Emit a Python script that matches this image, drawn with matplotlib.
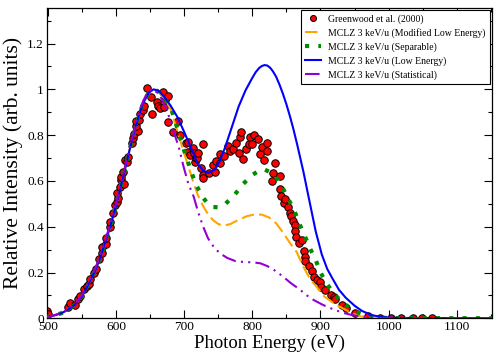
import matplotlib
matplotlib.use("Agg")
import matplotlib.pyplot as plt
from matplotlib.ticker import MultipleLocator, FuncFormatter

plt.rcParams['font.family'] = ['Liberation Serif', 'DejaVu Serif']

# Greenwood et al. (2000) measured spectrum (energy eV, relative intensity)
data_e = [499, 500, 530, 533, 540, 545, 548, 553, 557, 561, 562, 568, 571, 575,
          579, 580, 585, 586, 591, 592, 596, 598, 601, 603, 602, 606, 608, 612,
          607, 610, 613, 616, 617, 623, 625, 626, 633, 629, 630, 634, 635, 640,
          641, 646, 652, 653, 660, 661, 665, 670, 669, 672, 677, 676, 683, 691,
          694, 703, 705, 705, 709, 713, 714, 716, 718, 719, 721, 725, 727, 728,
          728, 737, 742, 745, 747, 752, 753, 758, 764, 767, 772, 776, 780, 782,
          783, 786, 791, 795, 796, 800, 803, 808, 811, 814, 817, 821, 822, 829,
          830, 834, 840, 841, 842, 846, 848, 852, 855, 857, 860, 862, 863, 864,
          868, 873, 876, 877, 878, 883, 888, 890, 895, 899, 901, 907, 916, 920,
          922, 932, 938, 951, 970, 988, 1003, 1018, 1036, 1049, 1063]
data_i = [0.03, 0.017, 0.048, 0.065, 0.057, 0.083, 0.097, 0.13, 0.14, 0.148,
          0.17, 0.196, 0.217, 0.257, 0.286, 0.313, 0.326, 0.35, 0.40, 0.42,
          0.46, 0.495, 0.506, 0.525, 0.546, 0.575, 0.604, 0.587, 0.619, 0.64,
          0.69, 0.684, 0.706, 0.764, 0.786, 0.807, 0.819, 0.839, 0.862, 0.868,
          0.891, 0.909, 0.926, 1.007, 0.967, 0.894, 0.945, 0.926, 0.92, 0.923,
          0.988, 0.955, 0.97, 0.858, 0.814, 0.862, 0.80, 0.764, 0.768, 0.727,
          0.713, 0.742, 0.72, 0.684, 0.699, 0.70, 0.72, 0.655, 0.761, 0.626,
          0.612, 0.636, 0.67, 0.64, 0.688, 0.68, 0.717, 0.709, 0.752, 0.732,
          0.738, 0.764, 0.723, 0.793, 0.814, 0.694, 0.738, 0.761, 0.79, 0.761,
          0.80, 0.781, 0.717, 0.75, 0.691, 0.764, 0.732, 0.601, 0.636, 0.68,
          0.622, 0.564, 0.532, 0.503, 0.52, 0.486, 0.459, 0.445, 0.423, 0.409,
          0.38, 0.354, 0.329, 0.34, 0.293, 0.268, 0.249, 0.23, 0.206, 0.181,
          0.167, 0.158, 0.138, 0.123, 0.10, 0.093, 0.083, 0.057, 0.046, 0.025,
          0.01, 0.003, 0.003, 0.003, 0.003, 0.003, 0.003]

# MCLZ 3 keV/u (Low Energy)
low_e = [497, 510, 520, 530, 540, 550, 560, 570, 580, 590, 600, 610, 620, 630,
         640, 648, 655, 662, 670, 680, 690, 700, 710, 720, 728, 736, 745, 752,
         760, 770, 780, 790, 800, 805, 810, 814, 818, 822, 826, 830, 835, 840,
         845, 850, 855, 860, 866, 875, 883, 893, 902, 910, 917, 927, 937, 950,
         961, 975, 990, 1010, 1050, 1155]
low_i = [0.005, 0.013, 0.022, 0.038, 0.06, 0.095, 0.15, 0.21, 0.29, 0.385,
         0.49, 0.61, 0.735, 0.85, 0.94, 0.985, 1.0, 0.995, 0.97, 0.93, 0.88,
         0.815, 0.745, 0.675, 0.645, 0.635, 0.65, 0.685, 0.745, 0.835, 0.925,
         0.995, 1.05, 1.075, 1.093, 1.102, 1.106, 1.104, 1.095, 1.08, 1.055,
         1.02, 0.98, 0.935, 0.885, 0.83, 0.757, 0.64, 0.524, 0.38, 0.278, 0.215,
         0.177, 0.125, 0.09, 0.055, 0.032, 0.014, 0.005, 0.002, 0.001, 0.0]

# MCLZ 3 keV/u (Modified Low Energy)
mod_e = [497, 510, 520, 530, 540, 550, 560, 570, 580, 590, 600, 610, 620, 630,
         640, 648, 655, 662, 670, 680, 690, 697, 705, 713, 720, 727, 735, 742,
         750, 758, 768, 780, 792, 805, 815, 825, 835, 845, 855, 865, 875, 885,
         895, 905, 915, 925, 937, 948, 960, 975, 1000, 1155]
mod_i = [0.005, 0.013, 0.022, 0.038, 0.06, 0.095, 0.15, 0.21, 0.29, 0.385,
         0.49, 0.61, 0.735, 0.85, 0.94, 0.985, 1.0, 0.99, 0.965, 0.915, 0.82,
         0.75, 0.675, 0.60, 0.54, 0.495, 0.455, 0.43, 0.412, 0.404, 0.412,
         0.43, 0.446, 0.455, 0.452, 0.44, 0.415, 0.375, 0.33, 0.29, 0.225,
         0.17, 0.135, 0.097, 0.075, 0.055, 0.037, 0.02, 0.008, 0.002, 0.0, 0.0]

# MCLZ 3 keV/u (Separable)
sep_e = [497, 510, 520, 530, 540, 550, 560, 570, 580, 590, 600, 610, 620, 630,
         640, 648, 655, 662, 670, 680, 687, 693, 699, 705, 711, 719, 727, 735,
         742, 750, 760, 774, 786, 800, 810, 817, 825, 834, 844, 853, 862, 869,
         877, 884, 893, 900, 910, 921, 936, 951, 965, 980, 1000, 1155]
sep_i = [0.005, 0.013, 0.022, 0.038, 0.06, 0.095, 0.15, 0.21, 0.29, 0.385,
         0.49, 0.61, 0.735, 0.85, 0.94, 0.985, 1.0, 0.99, 0.965, 0.925, 0.86,
         0.80, 0.742, 0.69, 0.635, 0.575, 0.53, 0.50, 0.486, 0.485, 0.498,
         0.539, 0.585, 0.626, 0.645, 0.651, 0.64, 0.621, 0.573, 0.52, 0.468,
         0.413, 0.36, 0.309, 0.255, 0.20, 0.148, 0.102, 0.061, 0.03, 0.015,
         0.005, 0.001, 0.0]

# MCLZ 3 keV/u (Statistical)
stat_e = [497, 510, 520, 530, 540, 550, 560, 570, 580, 590, 600, 610, 620, 630,
          640, 647, 652, 658, 665, 675, 683, 692, 699, 706, 714, 721, 728, 735,
          743, 752, 763, 775, 790, 800, 812, 822, 831, 844, 856, 870, 880, 890,
          902, 910, 920, 932, 945, 955, 970, 990, 1155]
stat_i = [0.005, 0.014, 0.024, 0.04, 0.064, 0.1, 0.157, 0.22, 0.3, 0.395,
          0.5, 0.62, 0.745, 0.86, 0.95, 0.99, 1.0, 0.995, 0.97, 0.91, 0.83,
          0.75, 0.665, 0.59, 0.532, 0.46, 0.40, 0.35, 0.314, 0.285, 0.264,
          0.25, 0.245, 0.245, 0.24, 0.228, 0.213, 0.185, 0.155, 0.125, 0.10,
          0.08, 0.061, 0.05, 0.038, 0.025, 0.015, 0.01, 0.004, 0.001, 0.0]

fig = plt.figure(figsize=(4.98, 3.55), dpi=100)
ax = fig.add_axes([46.7 / 498, 1 - 318.3 / 355, 445.6 / 498, 310 / 355])

ax.plot(data_e, data_i, 'o', color='red', mec='black', mew=0.7, ms=5.4,
        label='Greenwood et al. (2000)', zorder=2)
ax.plot(mod_e, mod_i, color='orange', lw=1.5, dashes=(6, 2.5),
        label='MCLZ 3 keV/u (Modified Low Energy)', zorder=3)
ax.plot(sep_e, sep_i, color='#008b00', lw=3.0, dashes=(1, 2.2),
        label='MCLZ 3 keV/u (Separable)', zorder=3)
ax.plot(low_e, low_i, color='blue', lw=1.5,
        label='MCLZ 3 keV/u (Low Energy)', zorder=3)
ax.plot(stat_e, stat_i, color='#9400d3', lw=1.5, dashes=(7, 2.5, 1, 2.5, 1, 2.5),
        label='MCLZ 3 keV/u (Statistical)', zorder=3)

ax.set_xlim(498.5, 1152)
ax.set_ylim(0, 1.354)
ax.xaxis.set_major_locator(MultipleLocator(100))
ax.xaxis.set_minor_locator(MultipleLocator(50))
ax.yaxis.set_major_locator(MultipleLocator(0.2))
ax.yaxis.set_minor_locator(MultipleLocator(0.1))
ax.yaxis.set_major_formatter(FuncFormatter(lambda v, p: '%g' % round(v, 2)))
ax.tick_params(which='both', direction='in', top=True, right=True, width=0.8,
               labelsize=9.6, pad=2)
ax.tick_params(which='major', length=6)
ax.tick_params(which='minor', length=3)
for s in ax.spines.values():
    s.set_linewidth(0.9)

ax.set_xlabel('Photon Energy (eV)', fontsize=13.5, labelpad=1)
ax.set_ylabel('Relative Intensity (arb. units)', fontsize=15.5, labelpad=3)

leg = ax.legend(loc='upper right', bbox_to_anchor=(0.995, 0.996), borderaxespad=0,
                fontsize=7.0, frameon=True, fancybox=False, edgecolor='black',
                framealpha=1, handlelength=1.6, handletextpad=0.8,
                labelspacing=0.45, borderpad=0.45, markerscale=0.8)
leg.get_frame().set_linewidth(0.8)

plt.savefig('out.png', dpi=100)
